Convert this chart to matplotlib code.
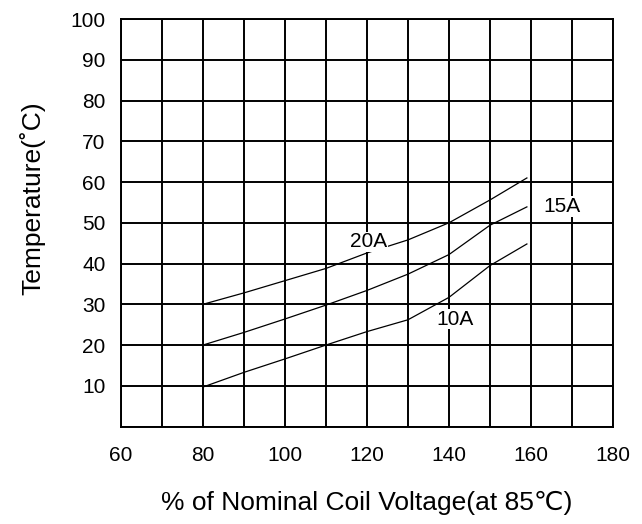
import matplotlib
matplotlib.use('Agg')
import matplotlib.pyplot as plt

plt.rcParams['font.family'] = ['Liberation Sans', 'DejaVu Sans']

# % of nominal coil voltage
voltage = [80, 90, 100, 110, 120, 130, 140, 150, 159]
# coil temperature rise for each contact current
temp_20a = [30, 32.8, 35.8, 38.8, 42.6, 45.8, 50.0, 55.6, 61.0]
temp_15a = [20, 23.1, 26.4, 29.8, 33.4, 37.4, 42.2, 49.4, 53.9]
temp_10a = [9.7, 13.3, 16.6, 20.0, 23.3, 26.2, 31.7, 39.5, 44.8]

xticks = [60, 80, 100, 120, 140, 160, 180]
yticks = [10, 20, 30, 40, 50, 60, 70, 80, 90, 100]

fig = plt.figure(figsize=(6.42, 5.24), dpi=100)
ax = fig.add_axes([0.1885, 0.186, 0.7663, 0.7777])

ax.plot(voltage, temp_20a, color='black', linewidth=0.9, zorder=3)
ax.plot(voltage, temp_15a, color='black', linewidth=0.9, zorder=3)
ax.plot(voltage, temp_10a, color='black', linewidth=0.9, zorder=3)

box = dict(facecolor='white', edgecolor='none', pad=0.5)
ax.text(120.5, 45.3, '20A', fontsize=15, ha='center', va='center', bbox=box, zorder=4)
ax.text(167.5, 54.0, '15A', fontsize=15, ha='center', va='center', bbox=box, zorder=4)
ax.text(141.5, 26.3, '10A', fontsize=15, ha='center', va='center', bbox=box, zorder=4)

ax.set_xlim(60, 180)
ax.set_ylim(0, 100)
ax.set_xticks(range(60, 181, 10))
ax.set_yticks(range(0, 101, 10))
ax.set_xticklabels([str(v) if v in xticks else '' for v in range(60, 181, 10)])
ax.set_yticklabels([str(v) if v in yticks else '' for v in range(0, 101, 10)])
ax.grid(True, color='black', linewidth=1.4)
ax.set_axisbelow(True)
for s in ax.spines.values():
    s.set_linewidth(1.4)
ax.tick_params(length=0, labelsize=15)
ax.tick_params(axis='x', pad=14)
ax.tick_params(axis='y', pad=11)

ax.set_xlabel('% of Nominal Coil Voltage(at 85℃)', fontsize=19, labelpad=19)
ax.set_ylabel('Temperature(˚C)', fontsize=19)
ax.yaxis.set_label_coords(-0.153, 0.56)

fig.savefig('out.png', dpi=100)
